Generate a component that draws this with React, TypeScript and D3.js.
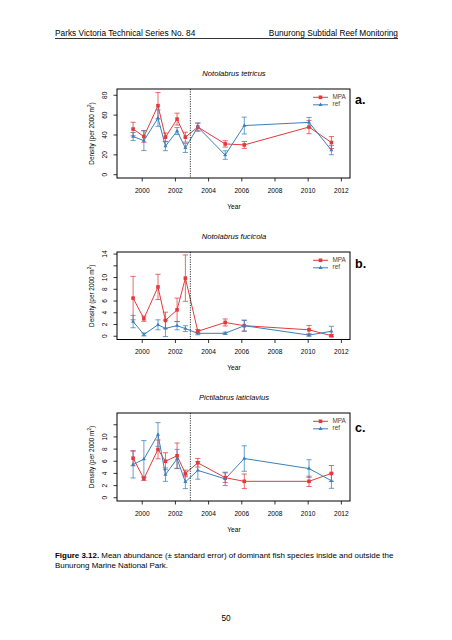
import React from "react";
import * as d3 from "d3";

// ---------- data ----------
const years = [1999.45, 2000.1, 2000.95, 2001.4, 2002.1, 2002.6, 2003.35, 2005.0, 2006.15, 2010.05, 2011.4];
const xTicks = [2000, 2002, 2004, 2006, 2008, 2010, 2012];
const impactYear = 2002.9;

const tetricusMPA = [46, 38.5, 69.5, 37.8, 56, 37.8, 48, 31, 30, 48, 32.4];
const tetricusMPAse = [6.8, 5.8, 13.2, 4.2, 6, 5, 4, 3.2, 3.5, 6.7, 6];
const tetricusRef = [38.5, 34.3, 57, 28.7, 44, 27, 48, 19.8, 49.5, 52.7, 24.7];
const tetricusRefSe = [4, 10, 8.3, 4.5, 3.5, 4.6, 4, 4.3, 8.5, 5, 4.6];

const fucicolaMPA = [6.5, 3.0, 8.4, 2.7, 4.5, 9.9, 0.85, 2.35, 1.8, 1.1, 0.1];
const fucicolaMPAse = [3.7, 0.45, 2.15, 1.4, 2.0, 3.95, 0.3, 0.6, 0.95, 0.75, 0.2];
const fucicolaRef = [2.5, 0.3, 1.95, 1.35, 1.8, 1.3, 0.5, 0.5, 1.8, 0.2, 0.85];
const fucicolaRefSe = [1.05, 0.25, 0.85, 1.4, 0.7, 0.5, 0.25, 0.2, 0.9, 0.2, 0.85];

const laticlaviusMPA = [6.5, 3.15, 7.95, 6.0, 6.9, 4.0, 5.75, 3.3, 2.7, 2.7, 4.0];
const laticlaviusMPAse = [1.25, 0.3, 1.55, 1.4, 2.1, 0.55, 0.7, 0.8, 1.2, 0.85, 1.3];
const laticlaviusRef = [5.45, 6.35, 10.4, 3.8, 6.4, 2.6, 4.5, 3.1, 6.45, 4.8, 2.8];
const laticlaviusRefSe = [2.2, 3.05, 1.95, 1.1, 1.55, 1.1, 1.45, 1.1, 2.1, 1.45, 1.25];

const yTicksA = [0, 20, 40, 60, 80];
const yTicksB = [0, 2, 4, 6, 8, 10, 12, 14];
const yTicksC = [0, 2, 4, 6, 8, 10, 12];
const hiddenB = [12];
const hiddenC = [12];

const RED = "#E23A3C";
const BLUE = "#3A80BB";
const FONT = "'Liberation Sans', Arial, Helvetica, sans-serif";

const xScale = d3.scaleLinear().domain([1998.48, 2012.52]).range([117, 350]);

type PanelProps = {
  title: string;
  letter: string;
  mpa: number[];
  mpaSe: number[];
  ref: number[];
  refSe: number[];
  top: number;
  bottom: number;
  ylim: [number, number];
  yTicks: number[];
  hidden: number[];
  letterY: number;
};

function Panel(p: PanelProps) {
  const ext = (p.ylim[1] - p.ylim[0]) * 0.04;
  const y = d3.scaleLinear().domain([p.ylim[0] - ext, p.ylim[1] + ext]).range([p.bottom, p.top]);
  const [x0, x1] = xScale.range();
  const line = d3
    .line<number>()
    .x((_, i) => xScale(years[i]))
    .y((d) => y(d));
  const tri = d3.symbol(d3.symbolTriangle, 7)() as string;
  const cap = 2.6;
  const errBars = (vals: number[], se: number[], color: string) =>
    vals.map((v, i) => {
      const cx = xScale(years[i]);
      const yt = y(v + se[i]);
      const yb = y(v - se[i]);
      return (
        <g key={i} stroke={color} strokeWidth={1} strokeOpacity={0.75}>
          <line x1={cx} x2={cx} y1={yt} y2={yb} />
          <line x1={cx - cap} x2={cx + cap} y1={yt} y2={yt} />
          <line x1={cx - cap} x2={cx + cap} y1={yb} y2={yb} />
        </g>
      );
    });
  const midY = (p.top + p.bottom) / 2;
  const legX = 313;
  const legY1 = p.top + 8.3;
  const legY2 = p.top + 15.8;
  return (
    <g>
      <text x={234} y={p.top - 15.5} textAnchor="middle" dominantBaseline="middle" fontStyle="italic" fontSize={7.6} fontFamily={FONT}>
        {p.title}
      </text>
      <path d={line(p.mpa) || ""} fill="none" stroke={RED} strokeWidth={1} />
      <path d={line(p.ref) || ""} fill="none" stroke={BLUE} strokeWidth={1} />
      {errBars(p.mpa, p.mpaSe, RED)}
      {errBars(p.ref, p.refSe, BLUE)}
      {p.mpa.map((v, i) => (
        <rect key={"m" + i} x={xScale(years[i]) - 1.8} y={y(v) - 1.8} width={3.6} height={3.6} fill={RED} />
      ))}
      {p.ref.map((v, i) => (
        <path key={"r" + i} d={tri} transform={`translate(${xScale(years[i])},${y(v)})`} fill={BLUE} />
      ))}
      <line x1={xScale(impactYear)} x2={xScale(impactYear)} y1={p.top} y2={p.bottom} stroke="#000" strokeWidth={0.8} strokeDasharray="1.2,1.2" />
      <rect x={x0} y={p.top} width={x1 - x0} height={p.bottom - p.top} fill="none" stroke="#000" strokeWidth={1} />
      {xTicks.map((t) => (
        <g key={t}>
          <line x1={xScale(t)} x2={xScale(t)} y1={p.bottom} y2={p.bottom + 3.5} stroke="#000" strokeWidth={0.8} />
          <text x={xScale(t)} y={p.bottom + 13} textAnchor="middle" dominantBaseline="middle" fontSize={6.6} fontFamily={FONT}>
            {t}
          </text>
        </g>
      ))}
      <text x={234} y={p.bottom + 29} textAnchor="middle" dominantBaseline="middle" fontSize={6.6} fontFamily={FONT}>
        Year
      </text>
      {p.yTicks.map((t) => (
        <g key={t}>
          <line x1={x0 - 3.5} x2={x0} y1={y(t)} y2={y(t)} stroke="#000" strokeWidth={0.8} />
          {p.hidden.indexOf(t) < 0 && (
            <text
              transform={`translate(${x0 - 11.5},${y(t)}) rotate(-90)`}
              textAnchor="middle"
              dominantBaseline="middle"
              fontSize={6.6}
              fontFamily={FONT}
            >
              {t}
            </text>
          )}
        </g>
      ))}
      <text transform={`translate(92,${midY}) rotate(-90)`} textAnchor="middle" dominantBaseline="middle" fontSize={6.4} fontFamily={FONT}>
        Density (per 2000 m
        <tspan dy={-2.5} fontSize={4.6}>2</tspan>
        <tspan dy={2.5}>)</tspan>
      </text>
      <line x1={legX} x2={legX + 15} y1={legY1} y2={legY1} stroke={RED} strokeWidth={1} />
      <rect x={legX + 7.5 - 1.8} y={legY1 - 1.8} width={3.6} height={3.6} fill={RED} />
      <text x={legX + 19.5} y={legY1} dominantBaseline="middle" fontSize={6.4} fill="#444" fontFamily={FONT}>
        MPA
      </text>
      <line x1={legX} x2={legX + 15} y1={legY2} y2={legY2} stroke={BLUE} strokeWidth={1} />
      <path d={tri} transform={`translate(${legX + 7.5},${legY2})`} fill={BLUE} />
      <text x={legX + 19.5} y={legY2} dominantBaseline="middle" fontSize={6.4} fill="#444" fontFamily={FONT}>
        ref
      </text>
      <text x={355} y={p.letterY} dominantBaseline="middle" fontSize={12.5} fontWeight="bold" fontFamily={FONT}>
        {p.letter}
      </text>
    </g>
  );
}

export default function App() {
  return (
    <svg width={452} height={640} style={{ position: "absolute", left: 0, top: 0, background: "#fff" }}>
      <rect x={0} y={0} width={452} height={640} fill="#fff" />
      <text x={55} y={36} fontSize={8.3} fontFamily={FONT}>
        Parks Victoria Technical Series No. 84
      </text>
      <text x={398} y={36} fontSize={8.3} textAnchor="end" fontFamily={FONT}>
        Bunurong Subtidal Reef Monitoring
      </text>
      <line x1={55} x2={398} y1={38.5} y2={38.5} stroke="#000" strokeWidth={0.8} />

      <Panel
        title="Notolabrus tetricus"
        letter="a."
        mpa={tetricusMPA}
        mpaSe={tetricusMPAse}
        ref={tetricusRef}
        refSe={tetricusRefSe}
        top={89}
        bottom={178}
        ylim={[0, 83]}
        yTicks={yTicksA}
        hidden={[]}
        letterY={100.5}
      />
      <Panel
        title="Notolabrus fucicola"
        letter="b."
        mpa={fucicolaMPA}
        mpaSe={fucicolaMPAse}
        ref={fucicolaRef}
        refSe={fucicolaRefSe}
        top={252}
        bottom={339.5}
        ylim={[0, 13.8]}
        yTicks={yTicksB}
        hidden={hiddenB}
        letterY={264.5}
      />
      <Panel
        title="Pictilabrus laticlavius"
        letter="c."
        mpa={laticlaviusMPA}
        mpaSe={laticlaviusMPAse}
        ref={laticlaviusRef}
        refSe={laticlaviusRefSe}
        top={413}
        bottom={501}
        ylim={[0, 13.4]}
        yTicks={yTicksC}
        hidden={hiddenC}
        letterY={428.5}
      />

      <text x={55} y={557.5} fontSize={7.95} fontFamily={FONT}>
        <tspan fontWeight="bold">Figure 3.12.</tspan> Mean abundance (± standard error) of dominant fish species inside and outside the
      </text>
      <text x={55} y={567.5} fontSize={7.95} fontFamily={FONT}>
        Bunurong Marine National Park.
      </text>
      <text x={226} y={621} fontSize={8.3} textAnchor="middle" fontFamily={FONT}>
        50
      </text>
    </svg>
  );
}
